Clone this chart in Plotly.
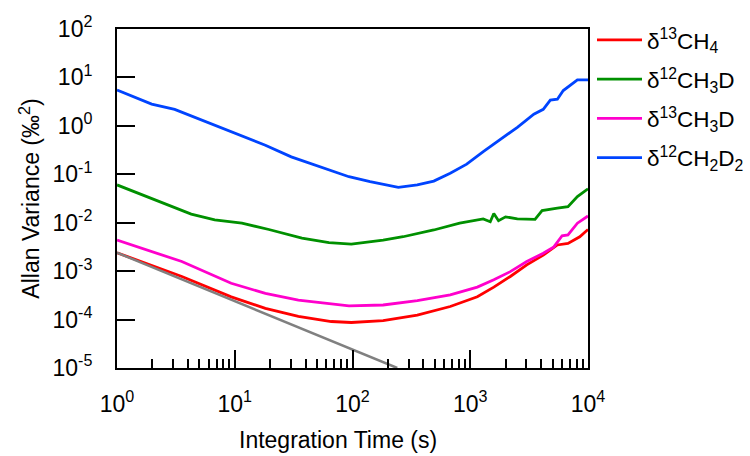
import plotly.graph_objects as go

# ---- data ----
t_13ch4 = [1, 3.55, 9.33, 18.2, 34.7, 66.1, 97.7, 182, 355, 676, 1148, 1585, 2188, 3020, 4169, 5495,
           6761, 8511, 10000]
v_13ch4 = [0.0024, 0.000776, 0.000295, 0.00017, 0.000117, 0.0000912, 0.0000871, 0.0000955, 0.000123,
           0.000186, 0.000295, 0.000468, 0.000776, 0.00135, 0.00214, 0.00347, 0.00372, 0.00513, 0.00724]

t_12ch3d = [1, 2.09, 4.27, 6.76, 11.5, 19.5, 37.2, 63.1, 97.7, 182, 269, 490, 813, 1288, 1479, 1585,
            1738, 1995, 2512, 3548, 4074, 5495, 6761, 8128, 10000]
v_12ch3d = [0.0603, 0.0295, 0.0151, 0.0115, 0.00977, 0.00724, 0.00479, 0.00389, 0.00363, 0.00437,
            0.00513, 0.00708, 0.00977, 0.0120, 0.0105, 0.0155, 0.0110, 0.0132, 0.0120, 0.0117, 0.0178,
            0.0200, 0.0214, 0.0347, 0.0501]

t_13ch3d = [1, 3.55, 9.33, 18.2, 34.7, 93.3, 182, 355, 676, 1148, 1585, 2188, 3020, 4169, 5129, 6026,
            6761, 8128, 10000]
v_13ch3d = [0.00437, 0.00158, 0.000562, 0.000347, 0.000251, 0.000191, 0.000200, 0.000245, 0.000324,
            0.000468, 0.000661, 0.000977, 0.00158, 0.00234, 0.00316, 0.00537, 0.00562, 0.00977, 0.0138]

t_12ch2d2 = [1, 1.97, 3.09, 6.03, 11.5, 18.2, 30.2, 47.9, 93.3, 141, 245, 355, 490, 676, 933, 1290,
             1778, 2512, 3467, 4169, 4786, 5495, 6166, 8128, 10000]
v_12ch2d2 = [5.50, 2.82, 2.19, 1.16, 0.617, 0.398, 0.229, 0.155, 0.0891, 0.0708, 0.0537, 0.0603,
             0.0724, 0.105, 0.162, 0.295, 0.513, 0.933, 1.74, 2.19, 3.39, 3.55, 5.37, 8.91, 8.91]

t_ref = [1, 240]
v_ref = [0.0024, 0.00001]

series_names = ["δ<sup>13</sup>CH<sub>4</sub>", "δ<sup>12</sup>CH<sub>3</sub>D",
                "δ<sup>13</sup>CH<sub>3</sub>D", "δ<sup>12</sup>CH<sub>2</sub>D<sub>2</sub>"]
series_colors = ["#ff0000", "#009000", "#ff00cc", "#0044ff"]

x_tickvals = [1, 10, 100, 1000, 10000]
x_ticktext = ["10<sup>0</sup>", "10<sup>1</sup>", "10<sup>2</sup>", "10<sup>3</sup>", "10<sup>4</sup>"]
y_tickvals = [1e-5, 1e-4, 1e-3, 1e-2, 1e-1, 1, 10, 100]
y_ticktext = ["10<sup>-5</sup>", "10<sup>-4</sup>", "10<sup>-3</sup>", "10<sup>-2</sup>",
              "10<sup>-1</sup>", "10<sup>0</sup>", "10<sup>1</sup>", "10<sup>2</sup>"]

FONT = "Liberation Sans, Arial, sans-serif"

fig = go.Figure()
for i, (tx, vy, name, col) in enumerate(zip([t_13ch4, t_12ch3d, t_13ch3d, t_12ch2d2],
                                            [v_13ch4, v_12ch3d, v_13ch3d, v_12ch2d2],
                                            series_names, series_colors)):
    fig.add_trace(go.Scatter(x=tx, y=vy, mode="lines", name=name, legendgroup=f"g{i}",
                             line=dict(color=col, width=2.8)))
fig.add_trace(go.Scatter(x=t_ref, y=v_ref, mode="lines", showlegend=False,
                         line=dict(color="#808080", width=2.5)))

minor_x = [m * 10 ** d for d in range(0, 4) for m in range(2, 10)]

fig.update_layout(
    width=750, height=456,
    margin=dict(l=117, r=162, t=29, b=88, autoexpand=False),
    paper_bgcolor="white", plot_bgcolor="white",
    font=dict(family=FONT, size=22, color="black"),
    legend=dict(x=1.0085, xanchor="left", y=1.03, yanchor="top",
                font=dict(family=FONT, size=22.5, color="black"),
                bgcolor="rgba(0,0,0,0)", itemwidth=45, tracegroupgap=7),
    xaxis=dict(type="log", range=[0, 4], showgrid=False, zeroline=False,
               showline=True, linecolor="black", linewidth=2, mirror=True,
               ticks="inside", ticklen=18, tickwidth=1.5, tickcolor="black",
               tickvals=x_tickvals, ticktext=x_ticktext, ticklabelstandoff=14,
               tickfont=dict(family=FONT, size=23),
               minor=dict(ticks="inside", ticklen=9, tickwidth=1.5, tickcolor="black",
                          tickvals=minor_x, showgrid=False)),
    yaxis=dict(type="log", range=[-5, 2], showgrid=False, zeroline=False,
               showline=True, linecolor="black", linewidth=2, mirror=True,
               ticks="inside", ticklen=18, tickwidth=1.5, tickcolor="black",
               tickvals=y_tickvals, ticktext=y_ticktext, ticklabelstandoff=18,
               tickfont=dict(family=FONT, size=23),
               title=dict(text="Allan Variance (‰<sup>2</sup>)", font=dict(family=FONT, size=23), standoff=6)),
    annotations=[dict(text="Integration Time (s)", xref="paper", yref="paper",
                      x=0.469, y=-0.212, xanchor="center", yanchor="middle", showarrow=False,
                      font=dict(family=FONT, size=23, color="black"))],
)

fig.write_html("out.html", config={"displayModeBar": False},
               post_script="document.body.style.margin='0';")
